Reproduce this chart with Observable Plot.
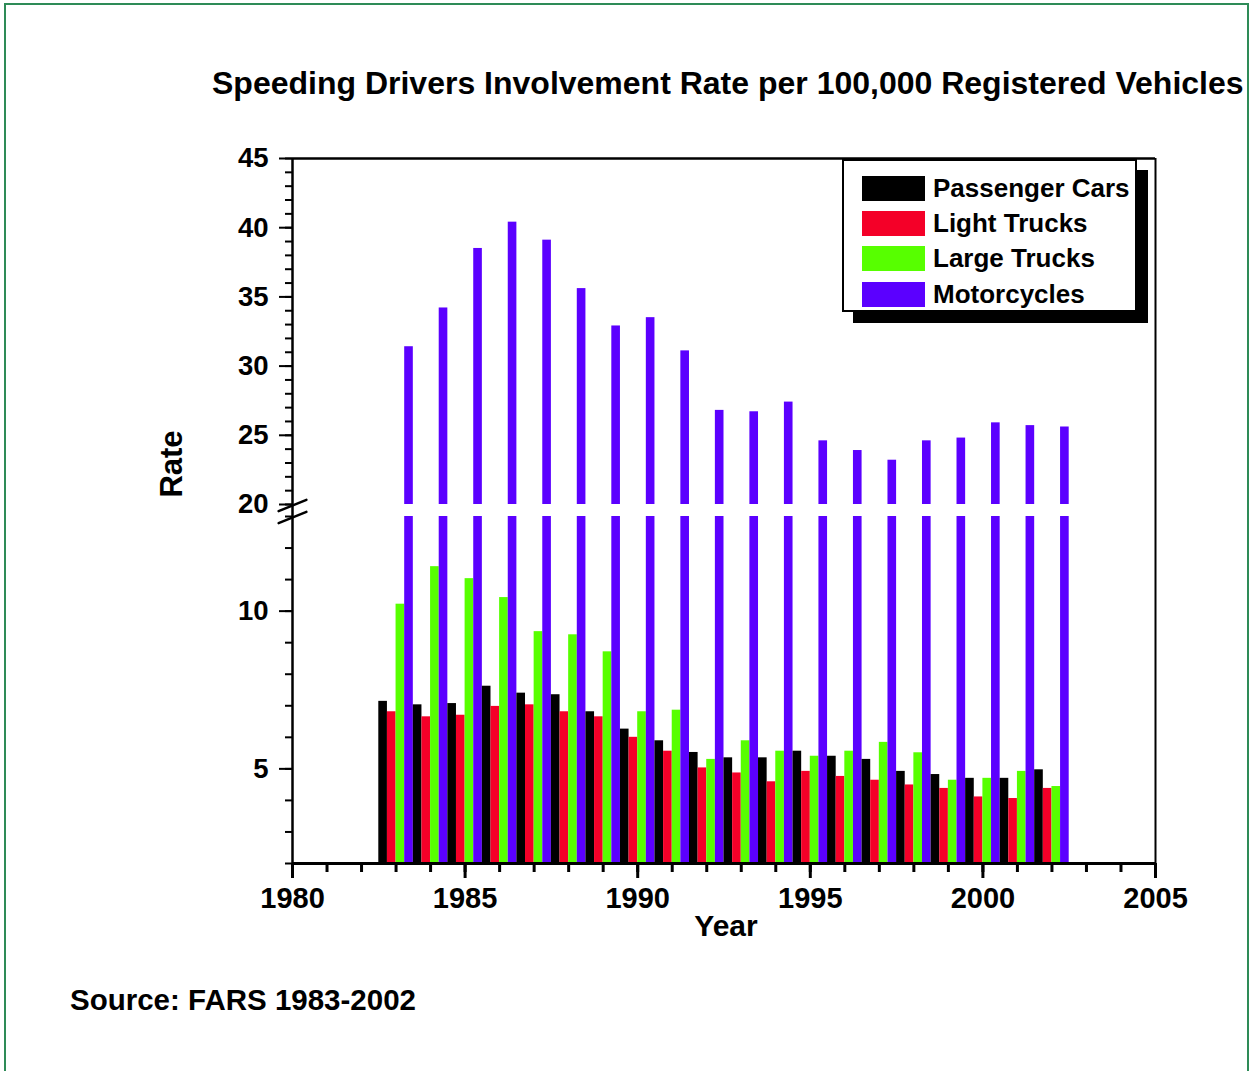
<!DOCTYPE html>
<html>
<head>
<meta charset="utf-8">
<script src="https://cdn.jsdelivr.net/npm/d3@7"></script>
<script src="https://cdn.jsdelivr.net/npm/@observablehq/plot@0.6"></script>
<style>
  html, body { margin: 0; padding: 0; background: #fff; }
  body { width: 1251px; height: 1071px; overflow: hidden; position: relative;
         font-family: "Liberation Sans", Arial, Helvetica, sans-serif; color: #000; }
  .abs { position: absolute; white-space: nowrap; }
  #frame { position: absolute; left: 4px; top: 3px; width: 1245px; height: 1120px;
           box-sizing: border-box; border: 2px solid #2e8b57; }
  #figtitle { left: 8px; top: -20px; font-size: 19px; font-weight: bold; line-height: 19px; }
  #title { left: 212px; top: 67px; font-size: 32px; font-weight: bold; line-height: 32px; }
  #ylabel { left: 171px; top: 464px; font-size: 31px; font-weight: bold; line-height: 31px;
            transform: translate(-50%, -50%) rotate(-90deg); }
  #xlabel { left: 726px; top: 926px; font-size: 30px; font-weight: bold; line-height: 30px;
            transform: translate(-50%, -50%); }
  #source { left: 70px; top: 985px; font-size: 29.5px; font-weight: bold; line-height: 30px; }
  #legend { left: 842px; top: 159px; width: 295px; height: 153px; box-sizing: border-box;
            border: 2px solid #000; background: #fff; box-shadow: 11px 11px 0 0 #000; }
  .sw { position: absolute; left: 18px; width: 63px; height: 25px; }
  .lt { position: absolute; left: 89px; height: 25px; line-height: 25px; font-size: 26px; font-weight: bold; white-space: nowrap; }
  #upper { position: absolute; left: 0; top: 130px; }
  #lower { position: absolute; left: 0; top: 498px; }
</style>
</head>
<body>
<div id="frame"></div>
<div id="figtitle" class="abs">Figure 5: Speeding Drivers Involvement Rate per 100,000 Registered Vehicles, by Vehicle Type, 1983-2002</div>
<div id="title" class="abs">Speeding Drivers Involvement Rate per 100,000 Registered Vehicles</div>
<div id="upper"></div>
<div id="lower"></div>
<div id="ylabel" class="abs">Rate</div>
<div id="xlabel" class="abs">Year</div>
<div id="legend" class="abs"></div>
<div id="source" class="abs">Source: FARS 1983-2002</div>
<script>
// ---- Data ----
const years = [1983, 1984, 1985, 1986, 1987, 1988, 1989, 1990, 1991, 1992,
               1993, 1994, 1995, 1996, 1997, 1998, 1999, 2000, 2001, 2002];
const seriesNames = ["Passenger Cars", "Light Trucks", "Large Trucks", "Motorcycles"];
const seriesColors = ["#000000", "#f40028", "#57ff00", "#5b00ff"];
const passengerCars = [7.14, 7.03, 7.07, 7.62, 7.40, 7.35, 6.81, 6.26, 5.89, 5.52,
                       5.35, 5.35, 5.56, 5.40, 5.30, 4.92, 4.82, 4.70, 4.70, 4.97];
const lightTrucks   = [6.81, 6.65, 6.70, 6.98, 7.03, 6.81, 6.65, 6.00, 5.56, 5.03,
                       4.87, 4.59, 4.92, 4.76, 4.64, 4.49, 4.38, 4.11, 4.06, 4.38];
const largeTrucks   = [10.22, 11.41, 11.03, 10.43, 9.35, 9.25, 8.71, 6.81, 6.86, 5.30,
                       5.89, 5.56, 5.40, 5.56, 5.84, 5.51, 4.64, 4.70, 4.92, 4.44];
const motorcycles   = [31.4, 34.2, 38.5, 40.4, 39.1, 35.6, 32.9, 33.5, 31.1, 26.8,
                       26.7, 27.4, 24.6, 23.9, 23.2, 24.6, 24.8, 25.9, 25.7, 25.6];
const xTicksMajor = [1980, 1985, 1990, 1995, 2000, 2005];
const yTicksUpper = [20, 25, 30, 35, 40, 45];
const yTicksLower = [5, 10];

const seriesValues = [passengerCars, lightTrucks, largeTrucks, motorcycles];
const rows = years.flatMap((yr, i) =>
  seriesNames.map((s, k) => ({year: yr, series: s, k, value: seriesValues[k][i]})));

const FONT = '"Liberation Sans", Arial, Helvetica, sans-serif';
const slash = { draw(ctx, l) { ctx.moveTo(0, 0); ctx.lineTo(0, -l); } };
const barX1 = d => d.year - 0.5 + d.k * 0.25;
const barX2 = d => d.year - 0.25 + d.k * 0.25;
const baseStyle = {fontFamily: FONT, color: "black", background: "transparent", overflow: "visible"};

// ---- Upper panel (20–45) ----
const upper = Plot.plot({
  width: 1251, height: 380,
  marginLeft: 292, marginRight: 96, marginTop: 28, marginBottom: 6,
  style: baseStyle,
  x: {domain: [1980, 2005], axis: null},
  y: {domain: [20, 45], label: null},
  color: {domain: seriesNames, range: seriesColors},
  marks: [
    Plot.rectY(rows, {x1: barX1, x2: barX2, y1: () => 0, y2: "value", fill: "series", clip: true}),
    Plot.axisY({ticks: d3.range(20, 46), tickSize: 7, fill: "none", strokeWidth: 2}),
    Plot.axisY({ticks: yTicksUpper, tickSize: 13, tickPadding: 11, fontSize: 27.5, fontWeight: "bold",
                strokeWidth: 2, label: null}),
    Plot.ruleX([1980], {strokeWidth: 2.5}),
    Plot.ruleX([2005], {strokeWidth: 2}),
    Plot.ruleY([45], {strokeWidth: 2.5}),
    Plot.vector([0], {x: () => 1980, y: () => 20, length: 30, rotate: 68, anchor: "middle",
                      shape: slash, stroke: "black", strokeWidth: 2.5, dy: 1})
  ]
});
document.getElementById("upper").append(upper);

// ---- Lower panel (2–13) ----
const lower = Plot.plot({
  width: 1251, height: 452,
  marginLeft: 292, marginRight: 96, marginTop: 18, marginBottom: 87,
  style: baseStyle,
  x: {domain: [1980, 2005], label: null},
  y: {domain: [2, 13], label: null},
  color: {domain: seriesNames, range: seriesColors},
  marks: [
    Plot.rectY(rows, {x1: barX1, x2: barX2, y1: () => 0, y2: "value", fill: "series", clip: true}),
    Plot.axisY({ticks: d3.range(2, 14), tickSize: 7, fill: "none", strokeWidth: 2}),
    Plot.axisY({ticks: yTicksLower, tickSize: 13, tickPadding: 11, fontSize: 27.5, fontWeight: "bold",
                strokeWidth: 2, label: null}),
    Plot.axisX({ticks: d3.range(1980, 2006), tickSize: 9, fill: "none", strokeWidth: 3}),
    Plot.axisX({ticks: xTicksMajor, tickSize: 15, tickPadding: 9, fontSize: 29, fontWeight: "bold",
                strokeWidth: 3, tickFormat: d => String(d), label: null}),
    Plot.ruleX([1980], {strokeWidth: 2.5, insetTop: -12}),
    Plot.ruleX([2005], {strokeWidth: 2, insetTop: -12}),
    Plot.ruleY([2], {strokeWidth: 3}),
    Plot.vector([0], {x: () => 1980, y: () => 13, length: 30, rotate: 68, anchor: "middle",
                      shape: slash, stroke: "black", strokeWidth: 2.5, dy: 1})
  ]
});
document.getElementById("lower").append(lower);

// ---- Legend ----
const legend = document.getElementById("legend");
const legendTops = [14.7, 50, 85.3, 120.6];
seriesNames.forEach((name, i) => {
  const sw = document.createElement("div");
  sw.className = "sw";
  sw.style.top = legendTops[i] + "px";
  sw.style.background = seriesColors[i];
  legend.append(sw);
  const t = document.createElement("div");
  t.className = "lt";
  t.style.top = legendTops[i] + "px";
  t.textContent = name;
  legend.append(t);
});
</script>
</body>
</html>
